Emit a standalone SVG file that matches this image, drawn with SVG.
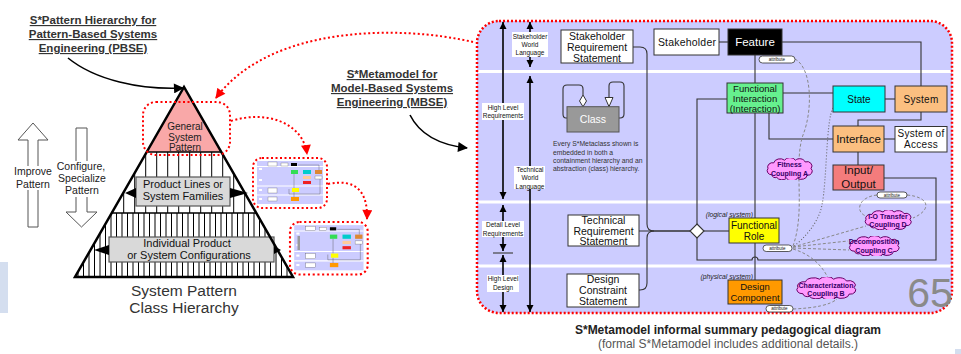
<svg xmlns="http://www.w3.org/2000/svg" width="961" height="354" viewBox="0 0 961 354">
<style>
text{font-family:"Liberation Sans",Arial,sans-serif;}
.c{text-anchor:middle}
.ttl{font-size:11.5px;font-weight:bold;fill:#333;text-anchor:middle;text-decoration:underline}
.box{stroke:#333;stroke-width:1}
.ln{fill:none;stroke:#333;stroke-width:1.1}
.lbl{font-size:6.5px;text-anchor:middle;fill:#111}
.va{stroke:#000;stroke-width:1.6;marker-start:url(#ah);marker-end:url(#ah)}
.pill{fill:#fff;stroke:#333;stroke-width:0.8}
.pt{font-size:4.5px;text-anchor:middle;fill:#111}
.dash{fill:none;stroke:#888;stroke-width:1;stroke-dasharray:3 2}
.dot{fill:none;stroke:#666;stroke-width:1.1;stroke-dasharray:1 2}
.cl{fill:#ff99ff;stroke:#660066;stroke-width:1}
.ct{font-size:7px;font-weight:bold;fill:#330066;text-anchor:middle}
.rd{fill:none;stroke:#ff0000;stroke-width:2;stroke-dasharray:2 2.5}
.bt{font-size:10.5px;fill:#111;text-anchor:middle}
.pyl{stroke:#000;stroke-width:1}
.tb{stroke:#555;stroke-width:0.3}
</style>
<defs>
<marker id="ah" viewBox="0 0 10 10" refX="10" refY="5" markerWidth="7" markerHeight="8" markerUnits="userSpaceOnUse" orient="auto-start-reverse"><path d="M0,0L10,5L0,10z" fill="#000"/></marker>
<marker id="ahk" viewBox="0 0 10 10" refX="9" refY="5" markerWidth="13" markerHeight="10" markerUnits="userSpaceOnUse" orient="auto"><path d="M0,0L10,5L0,10z" fill="#000"/></marker>
<marker id="ahr" viewBox="0 0 10 10" refX="9" refY="5" markerWidth="11" markerHeight="10" markerUnits="userSpaceOnUse" orient="auto"><path d="M0,0L10,5L0,10z" fill="#ff0000"/></marker>
<clipPath id="pyr"><polygon points="184,87 75,277 293,277"/></clipPath>
<symbol id="cloud" viewBox="0 0 100 50" preserveAspectRatio="none">
<path vector-effect="non-scaling-stroke" d="M14,38 A9,9 0 0 1 6,24 A10,10 0 0 1 18,11 A13,11 0 0 1 40,5 A12,10 0 0 1 62,5 A12,11 0 0 1 82,9 A10,10 0 0 1 94,24 A9,9 0 0 1 86,39 A12,10 0 0 1 66,46 A12,10 0 0 1 44,46 A12,10 0 0 1 24,44 A7,7 0 0 1 14,38 Z"/>
</symbol>
<g id="thumb">
<rect x="0" y="0" width="74" height="50" rx="9" class="rd" stroke-width="1.8"/>
<rect x="4" y="3" width="66" height="43" fill="#ccccff"/>
<line x1="4" y1="8.5" x2="70" y2="8.5" stroke="#fff" stroke-width="1"/>
<line x1="4" y1="28" x2="70" y2="28" stroke="#fff" stroke-width="1"/>
<line x1="4" y1="37" x2="70" y2="37" stroke="#fff" stroke-width="1"/>
<path d="M45,7 H66 V12 M41,16 V30 M41,34 V39 M36,31 V36 H67 V21" fill="none" stroke="#555" stroke-width="0.4"/>
<rect x="15" y="4" width="9" height="4" fill="#fff" class="tb"/>
<rect x="28" y="5" width="7" height="3" fill="#fff" class="tb"/>
<rect x="38" y="5" width="6" height="3" fill="#000"/>
<rect x="38" y="12" width="7" height="4" fill="#33dd55"/>
<rect x="50" y="12" width="8" height="4" fill="#00cccc"/>
<rect x="62" y="12" width="7" height="4" fill="#dd8833"/>
<rect x="50" y="18" width="8" height="3" fill="#ffcc99"/>
<rect x="62" y="18" width="7" height="3" fill="#fff" class="tb"/>
<rect x="50" y="23" width="8" height="3" fill="#ee2222"/>
<rect x="39" y="30" width="7" height="4" fill="#ffff00"/>
<rect x="38" y="39" width="8" height="4" fill="#ff9900"/>
<rect x="15" y="30" width="9" height="5" fill="#fff" class="tb"/>
<rect x="15" y="39" width="9" height="4" fill="#fff" class="tb"/>
<rect x="6" y="10" width="3" height="2" fill="#fff"/>
<rect x="6" y="21" width="3" height="2" fill="#fff"/>
<rect x="6" y="31" width="3" height="2" fill="#fff"/>
<rect x="6" y="40" width="3" height="2" fill="#fff"/>
</g>
</defs>

<rect x="0" y="0" width="961" height="354" fill="#fff"/>
<rect x="0" y="262" width="8" height="51" fill="#d4deef"/>
<rect x="955" y="349" width="6" height="5" fill="#d4deef"/>

<!-- Left: titles -->
<g id="pbse-title">
<text class="ttl" x="93" y="24">S*Pattern Hierarchy for</text>
<text class="ttl" x="93" y="38">Pattern-Based Systems</text>
<text class="ttl" x="93" y="52">Engineering (PBSE)</text>
</g>
<g id="mbse-title">
<text class="ttl" x="392" y="78">S*Metamodel for</text>
<text class="ttl" x="392" y="92">Model-Based Systems</text>
<text class="ttl" x="392" y="106">Engineering (MBSE)</text>
</g>

<!-- Improve / Configure arrows -->
<g id="improve-arrow">
<polygon points="33,123 48,140 38,140 38,227 28,227 28,140 18,140" fill="#fff" stroke="#555" stroke-width="1"/>
<rect x="14" y="166" width="40" height="24" fill="#fff"/>
<text x="33" y="175" font-size="10.5" fill="#222" class="c">Improve</text>
<text x="33" y="188" font-size="10.5" fill="#222" class="c">Pattern</text>
</g>
<g id="configure-arrow">
<polygon points="76,128 87,128 87,212 97,212 81.5,227 66,212 76,212" fill="#fff" stroke="#555" stroke-width="1"/>
<rect x="56" y="161" width="52" height="36" fill="#fff"/>
<text x="81" y="170" font-size="10.5" fill="#222" class="c">Configure,</text>
<text x="82" y="182" font-size="10.5" fill="#222" class="c">Specialize</text>
<text x="82" y="194" font-size="10.5" fill="#222" class="c">Pattern</text>
</g>

<!-- Pyramid -->
<g id="pyramid">
<polygon points="184,87 75,277 293,277" fill="#fff"/>
<polygon points="184,87 146.7,152 221.3,152" fill="#f9a8a8"/>
<g clip-path="url(#pyr)">
<path class="pyl" d="M112.7,152V213M123.7,152V213M134.7,152V213M145.7,152V213M156.7,152V213M167.7,152V213M178.7,152V213M189.7,152V213M200.7,152V213M211.7,152V213M222.7,152V213M233.7,152V213M244.7,152V213M255.7,152V213"/>
<path class="pyl" d="M78,213V277M83.5,213V277M89,213V277M94.5,213V277M100,213V277M105.5,213V277M111,213V277M116.5,213V277M122,213V277M127.5,213V277M133,213V277M138.5,213V277M144,213V277M149.5,213V277M155,213V277M160.5,213V277M166,213V277M171.5,213V277M177,213V277M182.5,213V277M188,213V277M193.5,213V277M199,213V277M204.5,213V277M210,213V277M215.5,213V277M221,213V277M226.5,213V277M232,213V277M237.5,213V277M243,213V277M248.5,213V277M254,213V277M259.5,213V277M265,213V277M270.5,213V277M276,213V277M281.5,213V277M287,213V277M292.5,213V277"/>
</g>
<line x1="146.7" y1="152" x2="221.3" y2="152" stroke="#000" stroke-width="1.4"/>
<line x1="111.7" y1="213" x2="256.3" y2="213" stroke="#000" stroke-width="1.4"/>
<text x="185" y="130" font-size="10" fill="#222" class="c">General</text>
<text x="185" y="140.5" font-size="10" fill="#222" class="c">System</text>
<text x="185" y="151" font-size="10" fill="#222" class="c">Pattern</text>
<rect x="136" y="177" width="94" height="29" fill="#d9d9d9" stroke="#555" stroke-width="1.2"/>
<text x="183" y="188" font-size="11" fill="#111" class="c">Product Lines or</text>
<text x="183" y="200" font-size="11" fill="#111" class="c">System Families</text>
<polygon points="125,193 136,188 136,198" fill="#000"/>
<polygon points="248,193 230,188 230,198" fill="#000"/>
<rect x="109" y="237" width="165" height="25" fill="#d9d9d9" stroke="#555" stroke-width="1.2"/>
<text x="187" y="247" font-size="11" fill="#111" class="c">Individual Product</text>
<text x="189" y="258.5" font-size="11" fill="#111" class="c">or System Configurations</text>
<polygon points="94,250 109,245 109,255" fill="#000"/>
<polygon points="281,250 274,246 274,254" fill="#000"/>
<polygon points="184,87 75,277 293,277" fill="none" stroke="#000" stroke-width="2.5" stroke-linejoin="miter"/>
<rect x="143" y="102" width="87" height="53" rx="13" class="rd"/>
<text x="184" y="295.5" font-size="15.5" fill="#333" class="c">System Pattern</text>
<text x="184" y="313" font-size="15.5" fill="#333" class="c">Class Hierarchy</text>
</g>

<!-- Thumbnails -->
<g id="thumbnail-1"><use href="#thumb" transform="translate(253,158)"/></g>
<g id="thumbnail-2">
<use href="#thumb" transform="translate(290,222) scale(1.05)"/>
<rect x="297.5" y="236" width="2.5" height="14" fill="#999"/>
</g>

<!-- Right panel -->
<g id="metamodel-panel">
<rect x="477" y="21" width="475" height="292" rx="22" fill="#ccccff"/>
<line x1="478" y1="71.5" x2="951" y2="71.5" stroke="#fff" stroke-width="3"/>
<line x1="478" y1="202" x2="951" y2="202" stroke="#fff" stroke-width="3"/>
<line x1="478" y1="266" x2="951" y2="266" stroke="#fff" stroke-width="3"/>
<rect x="477" y="21" width="475" height="292" rx="22" fill="none" stroke="#ff0000" stroke-width="2.5" stroke-dasharray="2 2"/>
<text x="930" y="307" font-size="41" fill="#8a8a8a" class="c">65</text>
</g>

<!-- Vertical scale arrows and labels -->
<g id="scale-arrows">
<line class="va" x1="503" y1="22" x2="503" y2="199"/>
<line class="va" x1="530" y1="22" x2="530" y2="67"/>
<line class="va" x1="530" y1="76" x2="530" y2="312"/>
<line class="va" x1="503" y1="205" x2="503" y2="251"/>
<line class="va" x1="503" y1="255" x2="503" y2="312"/>
<line x1="493" y1="253" x2="513" y2="253" stroke="#444" stroke-width="1.2"/>
<rect x="512" y="32" width="36" height="25" fill="#fff"/>
<text class="lbl" x="530" y="38.5">Stakeholder</text>
<text class="lbl" x="530" y="46.5">World</text>
<text class="lbl" x="530" y="54.5">Language</text>
<rect x="482" y="103" width="42" height="17" fill="#fff"/>
<text class="lbl" x="503" y="109.5">High Level</text>
<text class="lbl" x="503" y="118">Requirements</text>
<rect x="514" y="166" width="31" height="23" fill="#fff"/>
<text class="lbl" x="530" y="171.5">Technical</text>
<text class="lbl" x="530" y="180">World</text>
<text class="lbl" x="530" y="188.5">Language</text>
<rect x="482" y="221" width="42" height="16" fill="#fff"/>
<text class="lbl" x="503" y="227">Detail Level</text>
<text class="lbl" x="503" y="235.5">Requirements</text>
<rect x="487" y="275" width="32" height="17" fill="#fff"/>
<text class="lbl" x="503" y="281">High Level</text>
<text class="lbl" x="503" y="290">Design</text>
</g>

<!-- Connectors -->
<g id="connectors">
<path class="ln" d="M719,42H728"/>
<path class="ln" d="M782,42H921V86"/>
<path class="ln" d="M755,55V83"/>
<path class="ln" d="M783,93H833"/>
<path class="ln" d="M885,99H895"/>
<path class="ln" d="M921,112V120H858V126"/>
<path class="ln" d="M769,113V139H833"/>
<path class="ln" d="M884,139H895"/>
<path class="ln" d="M858,152V165"/>
<path class="ln" d="M884,178H936V260H758A3,3 0 0 0 752,260H697V99H727"/>
<path class="ln" d="M755,113V218"/>
<path class="ln" d="M755,243V280"/>
<path class="ln" d="M704,231H729"/>
<path class="ln" d="M633,47H640Q647,47 647,54V224Q647,231 654,231H690"/>
<path class="ln" d="M639,290H640Q647,290 647,283V238Q647,231 654,231"/>
<path class="ln" d="M639,231H690"/>
<polygon points="697,224 704,231 697,238 690,231" fill="#fff" stroke="#333" stroke-width="1.1"/>
<path class="ln" d="M567,118H566Q563,118 563,114V89Q563,85 567,85H579Q583,85 583,89V95"/>
<polygon points="583,95 586.5,101 583,106.7 579.5,101" fill="#fff" stroke="#333" stroke-width="1"/>
<path class="ln" d="M619,118H620Q624,118 624,114V86Q624,82 620,82H613Q609,82 609,86V97"/>
<polygon points="605,97.5 613,97.5 609,106.7" fill="#fff" stroke="#333" stroke-width="1"/>
<path class="dash" d="M795,59C812,68 813,110 803,135C793,165 806,210 793,246"/>
<path class="dot" d="M833,108C826,120 827,180 822,205C818,225 802,240 793,247"/>
<path class="dash" d="M793,247L866,226"/>
<path class="dash" d="M793,247L848,241"/>
<path class="dash" d="M793,248L849,250"/>
<path class="dash" d="M793,249C810,254 822,265 828,278"/>
<path class="dash" d="M877,195C858,197 855,212 866,216"/>
<path class="dash" d="M907,195C930,197 932,210 913,218"/>
<path class="dash" d="M793,309C815,308 830,305 837,299"/>
<path d="M68,58C95,80 140,90 183,88" fill="none" stroke="#000" stroke-width="1.6" marker-end="url(#ahk)"/>
<path d="M410,115C420,135 440,145 467,148" fill="none" stroke="#000" stroke-width="1.6" marker-end="url(#ahk)"/>
<path d="M473,42C400,25 270,25 216,98" class="rd" marker-end="url(#ahr)"/>
<path d="M231,121C265,110 303,122 307,154" class="rd" marker-end="url(#ahr)"/>
<path d="M328,184C356,178 368,192 367,219" class="rd" marker-end="url(#ahr)"/>
</g>

<!-- Nodes -->
<g id="stakeholder-requirement-statement">
<rect x="561" y="30" width="72" height="33" fill="#fff" class="box"/>
<text class="bt" x="597" y="39.5">Stakeholder</text>
<text class="bt" x="597" y="50.5">Requirement</text>
<text class="bt" x="597" y="61.5">Statement</text>
</g>
<g id="stakeholder">
<rect x="654" y="29" width="65" height="26" fill="#fff" class="box"/>
<text class="bt" x="687" y="46" font-size="10" letter-spacing="0.2">Stakeholder</text>
</g>
<g id="feature">
<rect x="728" y="29" width="54" height="26" fill="#000" class="box"/>
<text x="755" y="46" font-size="11.5" fill="#fff" class="c">Feature</text>
</g>
<g id="feature-attribute">
<rect x="759" y="56" width="36" height="7" rx="3.5" class="pill"/>
<text class="pt" x="777" y="61.2">attribute</text>
</g>
<g id="class">
<rect x="567" y="106.7" width="52" height="25.3" fill="#999" stroke="#555" stroke-width="1"/>
<text x="593" y="123" font-size="10.5" fill="#fff" class="c">Class</text>
</g>
<g id="note">
<text x="553" y="146" font-size="6.8" fill="#333">Every S*Metaclass shown is</text>
<text x="553" y="154.5" font-size="6.8" fill="#333">embedded in both a</text>
<text x="553" y="162.5" font-size="6.8" fill="#333">containment hierarchy and an</text>
<text x="553" y="170.5" font-size="6.8" fill="#333">abstraction (class) hierarchy.</text>
</g>
<g id="functional-interaction">
<rect x="727" y="83" width="56" height="30" fill="#66f08e" class="box"/>
<text x="755" y="91.5" font-size="9.5" fill="#111" class="c">Functional</text>
<text x="755" y="102" font-size="9.5" fill="#111" class="c">Interaction</text>
<text x="755" y="112" font-size="9.5" fill="#111" class="c">(Interaction)</text>
</g>
<g id="state">
<rect x="833" y="86" width="52" height="26" fill="#00ffff" class="box"/>
<text x="859" y="102.5" font-size="10" fill="#111" class="c">State</text>
</g>
<g id="system">
<rect x="895" y="86" width="52" height="26" fill="#fbbf80" class="box"/>
<text x="921" y="102.5" font-size="10" fill="#111" class="c" letter-spacing="0.3">System</text>
</g>
<g id="interface">
<rect x="833" y="126" width="51" height="26" fill="#fbbf80" class="box"/>
<text x="858.5" y="142.5" font-size="11.5" fill="#111" class="c">Interface</text>
</g>
<g id="system-of-access">
<rect x="895" y="126.5" width="52" height="25.5" fill="#fff" class="box"/>
<text x="921" y="136.5" font-size="10" fill="#111" class="c" letter-spacing="0.3">System of</text>
<text x="921" y="148" font-size="10" fill="#111" class="c" letter-spacing="0.3">Access</text>
</g>
<g id="input-output">
<rect x="833" y="165" width="51" height="25" fill="#f47c7c" class="box"/>
<text x="858.5" y="174" font-size="11.5" fill="#111" class="c">Input/</text>
<text x="858.5" y="188" font-size="11.5" fill="#111" class="c">Output</text>
</g>
<g id="io-attribute">
<rect x="877" y="192" width="30" height="6" rx="3" class="pill"/>
<text class="pt" x="892" y="196.6">attribute</text>
</g>
<g id="fitness-coupling-a">
<use href="#cloud" x="765" y="158" width="49" height="22" class="cl"/>
<text class="ct" x="789.5" y="167">Fitness</text>
<text class="ct" x="789.5" y="176">Coupling A</text>
</g>
<g id="io-transfer-coupling-d">
<use href="#cloud" x="863" y="210" width="50" height="20" class="cl"/>
<text class="ct" x="888" y="218.5">I-O Transfer</text>
<text class="ct" x="888" y="226.5">Coupling D</text>
</g>
<g id="decomposition-coupling-c">
<use href="#cloud" x="847" y="236" width="54" height="20" class="cl"/>
<text class="ct" x="874" y="244">Decomposition</text>
<text class="ct" x="874" y="252.5">Coupling C</text>
</g>
<g id="characterization-coupling-b">
<use href="#cloud" x="794" y="277" width="64" height="22" class="cl"/>
<text class="ct" x="826" y="287.5">Characterization</text>
<text class="ct" x="826" y="296">Coupling B</text>
</g>
<g id="technical-requirement-statement">
<rect x="568" y="215" width="71" height="31" fill="#fff" class="box"/>
<text class="bt" x="603.5" y="223.5" font-size="10">Technical</text>
<text class="bt" x="603.5" y="234.5" font-size="10">Requirement</text>
<text class="bt" x="603.5" y="245" font-size="10">Statement</text>
</g>
<g id="design-constraint-statement">
<rect x="567" y="274" width="72" height="33" fill="#fff" class="box"/>
<text class="bt" x="603" y="283" font-size="10">Design</text>
<text class="bt" x="603" y="294" font-size="10">Constraint</text>
<text class="bt" x="603" y="305" font-size="10">Statement</text>
</g>
<g id="functional-role">
<text x="753" y="216.5" font-size="6.8" font-style="italic" fill="#222" text-anchor="end">(logical system)</text>
<rect x="729" y="218" width="50" height="25" fill="#ffff00" class="box"/>
<text x="754" y="228.5" font-size="10" fill="#111" class="c">Functional</text>
<text x="754" y="240" font-size="10" fill="#111" class="c">Role</text>
</g>
<g id="fr-attribute">
<rect x="763" y="245" width="29" height="6.5" rx="3.2" class="pill"/>
<text class="pt" x="777.5" y="249.8">attribute</text>
</g>
<g id="design-component">
<text x="753" y="279" font-size="6.8" font-style="italic" fill="#222" text-anchor="end">(physical system)</text>
<rect x="728" y="280" width="54" height="24" fill="#ff9900" class="box"/>
<text x="755" y="290" font-size="9.5" fill="#111" class="c">Design</text>
<text x="755" y="300.5" font-size="9.5" fill="#111" class="c">Component</text>
</g>
<g id="dc-attribute">
<rect x="766" y="305.5" width="27" height="6.5" rx="3.2" class="pill"/>
<text class="pt" x="779.5" y="310.3">attribute</text>
</g>

<g id="caption">
<text x="728" y="334" font-size="12" font-weight="bold" fill="#222" class="c">S*Metamodel informal summary pedagogical diagram</text>
<text x="728" y="347.5" font-size="12" fill="#555" class="c">(formal S*Metamodel includes additional details.)</text>
</g>
</svg>
